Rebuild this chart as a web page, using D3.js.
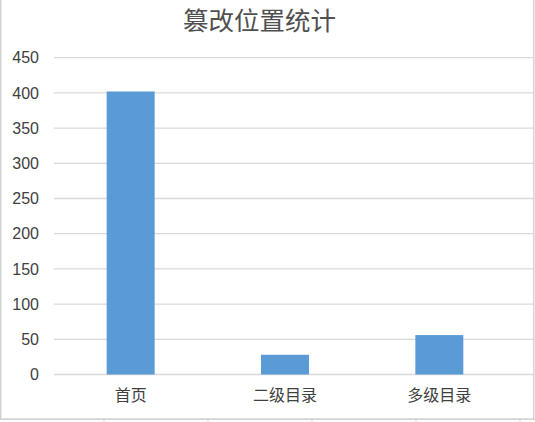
<!DOCTYPE html>
<html><head><meta charset="utf-8">
<script src="https://cdn.jsdelivr.net/npm/d3@7"></script>
<style>
html,body{margin:0;padding:0;background:#fff;overflow:hidden}
svg{display:block}
</style></head>
<body>
<svg id="c" width="535" height="422"></svg>
<script>
const title = "篡改位置统计";
const categories = ["首页", "二级目录", "多级目录"];
const values = [402, 28, 56];
const yTicks = [0, 50, 100, 150, 200, 250, 300, 350, 400, 450];
const sheetCols = [104, 208, 312, 416, 520];

const svg = d3.select("#c");
const W = 535, H = 422;
const plot = {left: 53.5, right: 516.5, top: 57.7, bottom: 374.5, gridLeft: 54, gridRight: 533};

// chart border
svg.append("rect").attr("x", 0.8).attr("y", -2).attr("width", 533).attr("height", 421)
  .attr("fill", "#fff").attr("stroke", "#c8c8c8").attr("stroke-width", 1.2);

// spreadsheet grid at bottom
svg.append("line").attr("x1", 0).attr("x2", W).attr("y1", 419.5).attr("y2", 419.5)
  .attr("stroke", "#d4d4d4").attr("stroke-width", 1);
svg.selectAll("line.col").data(sheetCols).enter().append("line")
  .attr("x1", d => d).attr("x2", d => d).attr("y1", 419.5).attr("y2", H)
  .attr("stroke", "#d4d4d4");

const x = d3.scaleBand().domain(categories).range([plot.left, plot.right])
  .paddingInner(0.689).paddingOuter(0.3445);
const y = d3.scaleLinear().domain([0, 450]).range([plot.bottom, plot.top]);

// gridlines
svg.append("g").selectAll("line").data(yTicks).enter().append("line")
  .attr("x1", plot.gridLeft).attr("x2", plot.gridRight)
  .attr("y1", d => y(d)).attr("y2", d => y(d))
  .attr("stroke", "#d9d9d9").attr("stroke-width", 1.3);

// y axis labels
const yAxis = d3.axisLeft(y).tickValues(yTicks).tickSize(0).tickPadding(0);
const ya = svg.append("g").attr("transform", `translate(39,0)`).call(yAxis);
ya.select(".domain").remove();
ya.selectAll("text").attr("fill", "#404040").attr("font-family", "Liberation Sans, Arial, sans-serif")
  .attr("font-size", 16);

// bars
svg.append("g").selectAll("rect").data(values).enter().append("rect")
  .attr("x", (d, i) => x(categories[i]))
  .attr("width", x.bandwidth())
  .attr("y", d => y(d))
  .attr("height", d => y(0) - y(d))
  .attr("fill", "#5B9BD5");

// x axis labels
const xAxis = d3.axisBottom(x).tickSize(0).tickPadding(0);
const xa = svg.append("g").attr("transform", `translate(0,0)`).call(xAxis);
xa.select(".domain").remove();
xa.selectAll("text").attr("fill", "#404040").attr("dy", null).attr("y", 400.5)
  .attr("font-family", "Noto Sans CJK SC, sans-serif").attr("font-size", 16);

// title
svg.append("text").attr("x", 259.5).attr("y", 29.5).attr("text-anchor", "middle")
  .attr("font-family", "Noto Sans CJK SC, sans-serif").attr("font-size", 25.5)
  .attr("fill", "#505050").text(title);
</script>
</body></html>
